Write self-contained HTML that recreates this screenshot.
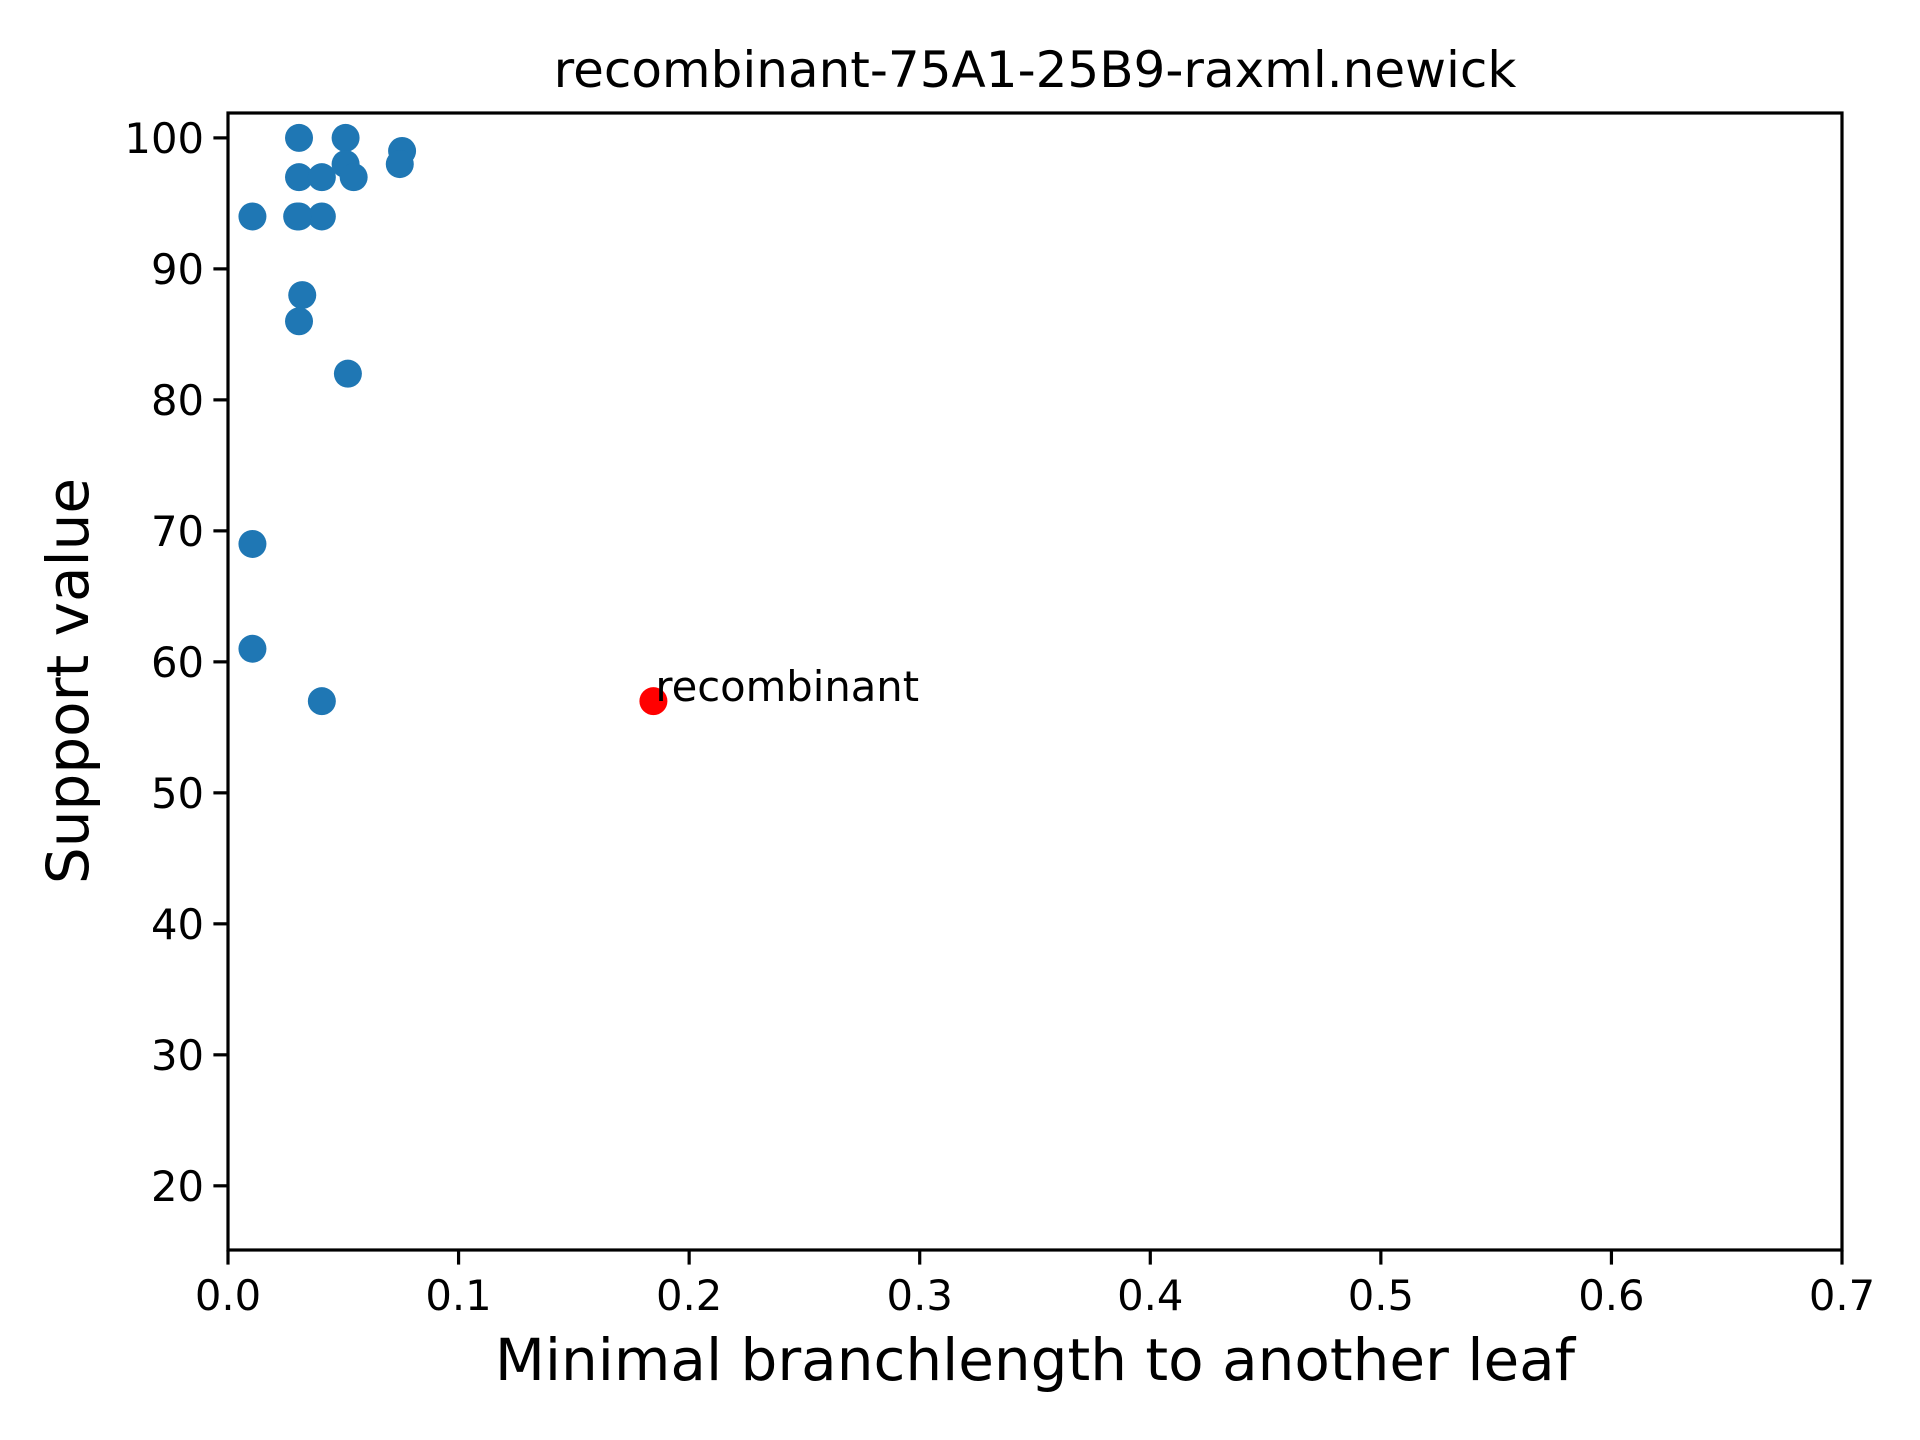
<!DOCTYPE html>
<html><head><meta charset="utf-8"><style>
html,body{margin:0;padding:0;background:#fff;}
svg{display:block;font-family:"DejaVu Sans","Liberation Sans",sans-serif;}
</style></head><body>
<svg id="chart" width="1920" height="1440" viewBox="0 0 1920 1440" xmlns="http://www.w3.org/2000/svg">
<rect width="1920" height="1440" fill="#fff"/>
<g id="plot"></g>
<text x="1035" y="87" font-size="50" text-anchor="middle">recombinant-75A1-25B9-raxml.newick</text>
<text x="1035" y="1380" font-size="58" text-anchor="middle">Minimal branchlength to another leaf</text>
<text transform="translate(88,681) rotate(-90)" font-size="58" text-anchor="middle">Support value</text>
</svg>
<script>
const xs = [0.0106,0.0106,0.0106,0.0308,0.0308,0.0308,0.0322,0.0308,0.0407,0.0407,0.0407,0.0510,0.0510,0.0545,0.0520,0.0755,0.0745,0.0300];
const ys = [94,69,61,100,97,94,88,86,97,94,57,100,98,97,82,99,98,94];
const redX = [0.1845];
const redY = [57];
const redLabels = ["recombinant"];
const xTicks = [0,0.1,0.2,0.3,0.4,0.5,0.6,0.7];
const xTickLabels = ["0.0","0.1","0.2","0.3","0.4","0.5","0.6","0.7"];
const yTicks = [20,30,40,50,60,70,80,90,100];
const yTickLabels = ["20","30","40","50","60","70","80","90","100"];

const L=228,R=1842,T=113,B=1250;
const xMin=0,xMax=0.7,yMin=15.1,yMax=101.9;
const sx=v=>L+(v-xMin)/(xMax-xMin)*(R-L);
const sy=v=>B-(v-yMin)/(yMax-yMin)*(B-T);
const NS="http://www.w3.org/2000/svg";
const g=document.getElementById('plot');
function mk(tag,attrs){const e=document.createElementNS(NS,tag);for(const k in attrs)e.setAttribute(k,attrs[k]);g.appendChild(e);return e;}
xs.forEach((x,i)=>{
  const c=mk('circle',{cx:sx(x),cy:sy(ys[i]),r:14,fill:'#1f77b4'});
  
  
});
redX.forEach((x,i)=>{
  const c=mk('circle',{cx:sx(x),cy:sy(redY[i]),r:14,fill:'#ff0000'});
  
  
  const t=mk('text',{x:sx(x)+2,y:sy(redY[i]),'font-size':41.7});
  t.textContent=redLabels[i];
  
  
});
const fr=mk('rect',{x:L,y:T,width:R-L,height:B-T,fill:'none',stroke:'#000','stroke-width':3.2});


xTicks.forEach((v,i)=>{
  const l=mk('line',{x1:sx(v),x2:sx(v),y1:B,y2:B+14.6,stroke:'#000','stroke-width':3.2});
  
  
  const t=mk('text',{x:sx(v),y:B+60,'font-size':41.7,'text-anchor':'middle'});
  t.textContent=xTickLabels[i];
  
  
});
yTicks.forEach((v,i)=>{
  const l=mk('line',{x1:L-14.6,x2:L,y1:sy(v),y2:sy(v),stroke:'#000','stroke-width':3.2});
  
  
  const t=mk('text',{x:L-24,y:sy(v)+15,'font-size':41.7,'text-anchor':'end'});
  t.textContent=yTickLabels[i];
  
  
});
</script>
</body></html>
